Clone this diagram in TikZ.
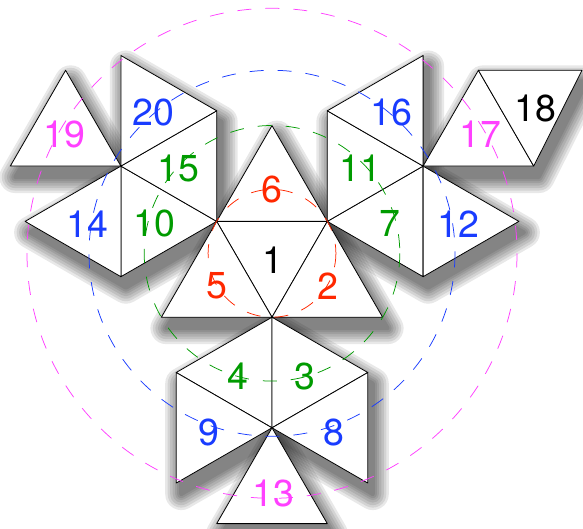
\documentclass[tikz,border=0pt]{standalone}
\usepackage{fontspec}
\setmainfont{TeX Gyre Heros}
\definecolor{cred}{RGB}{255,40,0}
\definecolor{cgreen}{RGB}{0,155,0}
\definecolor{cblue}{RGB}{25,60,255}
\definecolor{cmag}{RGB}{255,64,255}
\newcommand{\shd}[1]{%
  \foreach \w in {32,27,22,17,12,8,4}{%
    \begin{scope}[transparency group, opacity=0.09, shift={(5,11)}]
      \filldraw[black, line width=\w pt, line join=round] #1;
    \end{scope}}}
\begin{document}
\begin{tikzpicture}[x=1pt,y=-1pt,
  face/.style={fill=white,draw=black,line width=0.8pt,line join=round},
  ring/.style={dash pattern=on 14pt off 14pt,line width=0.75pt},
  lbl/.style={font=\fontsize{37.5}{37.5}\selectfont,inner sep=0pt}]
\useasboundingbox (0,0) rectangle (583,529);
% shadows
\shd{(272,125.6) -- (327.3,221.4) -- (382.6,317.2) -- (161.4,317.2) -- (216.7,221.4) -- cycle}
\shd{(272,317.2) -- (367.8,372.5) -- (367.8,483.1) -- (272,427.8) -- (176.2,483.1) -- (176.2,372.5) -- cycle}
\shd{(272,427.8) -- (327.3,523.6) -- (216.7,523.6) -- cycle}
\shd{(120.9,55.5) -- (216.7,110.8) -- (216.7,221.4) -- (120.9,276.7) -- (25.1,221.4) -- (120.9,166.1) -- cycle}
\shd{(120.9,166.1) -- (10.3,166.1) -- (65.6,70.3) -- cycle}
\shd{(423.1,55.5) -- (423.1,166.1) -- (518.9,221.4) -- (423.1,276.7) -- (327.3,221.4) -- (327.3,110.8) -- cycle}
\shd{(423.1,166.1) -- (478.4,70.3) -- (582,70.3) -- (533.7,166.1) -- cycle}
% faces
\draw[face] (216.7,221.4) -- (327.3,221.4) -- (272,317.2) -- cycle;
\draw[face] (216.7,221.4) -- (327.3,221.4) -- (272,125.6) -- cycle;
\draw[face] (216.7,221.4) -- (272,317.2) -- (161.4,317.2) -- cycle;
\draw[face] (327.3,221.4) -- (272,317.2) -- (382.6,317.2) -- cycle;
\draw[face] (272,317.2) -- (176.2,372.5) -- (272,427.8) -- cycle;
\draw[face] (272,317.2) -- (367.8,372.5) -- (272,427.8) -- cycle;
\draw[face] (176.2,372.5) -- (176.2,483.1) -- (272,427.8) -- cycle;
\draw[face] (367.8,372.5) -- (367.8,483.1) -- (272,427.8) -- cycle;
\draw[face] (272,427.8) -- (216.7,523.6) -- (327.3,523.6) -- cycle;
\draw[face] (120.9,166.1) -- (216.7,221.4) -- (120.9,276.7) -- cycle;
\draw[face] (120.9,166.1) -- (216.7,221.4) -- (216.7,110.8) -- cycle;
\draw[face] (120.9,166.1) -- (216.7,110.8) -- (120.9,55.5) -- cycle;
\draw[face] (120.9,166.1) -- (120.9,276.7) -- (25.1,221.4) -- cycle;
\draw[face] (120.9,166.1) -- (10.3,166.1) -- (65.6,70.3) -- cycle;
\draw[face] (423.1,166.1) -- (327.3,221.4) -- (423.1,276.7) -- cycle;
\draw[face] (423.1,166.1) -- (327.3,221.4) -- (327.3,110.8) -- cycle;
\draw[face] (423.1,166.1) -- (327.3,110.8) -- (423.1,55.5) -- cycle;
\draw[face] (423.1,166.1) -- (423.1,276.7) -- (518.9,221.4) -- cycle;
\draw[face] (423.1,166.1) -- (478.4,70.3) -- (533.7,166.1) -- cycle;
\draw[face] (478.4,70.3) -- (582,70.3) -- (533.7,166.1) -- cycle;
% rings
\coordinate (c) at (272,253.3);
\draw[ring,cred] (c) circle[radius=63.9];
\draw[ring,cgreen] (c) circle[radius=127.8];
\draw[ring,cblue] (c) circle[radius=183];
\draw[ring,cmag] (c) circle[radius=245];
% labels
\node[lbl,black] (n1) at (272.5,260) {1};
\node[lbl,cred] (n6) at (272,189) {6};
\node[lbl,cred] (n5) at (216.5,286) {5};
\node[lbl,cred] (n2) at (328,286) {2};
\node[lbl,cblue] (n20) at (153,112) {20};
\node[lbl,cgreen] (n15) at (178,168) {15};
\node[lbl,cgreen] (n10) at (154,223) {10};
\node[lbl,cblue] (n14) at (87,224) {14};
\node[lbl,cmag] (n19) at (64,134) {19};
\node[lbl,cblue] (n16) at (391,112) {16};
\node[lbl,cgreen] (n11) at (360,168) {11};
\node[lbl,cgreen] (n7) at (390,223) {7};
\node[lbl,cblue] (n12) at (458,224) {12};
\node[lbl,cmag] (n17) at (480,134) {17};
\node[lbl,black] (n18) at (535,108) {18};
\node[lbl,cgreen] (n4) at (238,376) {4};
\node[lbl,cgreen] (n3) at (305,376) {3};
\node[lbl,cblue] (n9) at (209,432) {9};
\node[lbl,cblue] (n8) at (334,432) {8};
\node[lbl,cmag] (n13) at (273,493) {13};
\end{tikzpicture}
\end{document}
